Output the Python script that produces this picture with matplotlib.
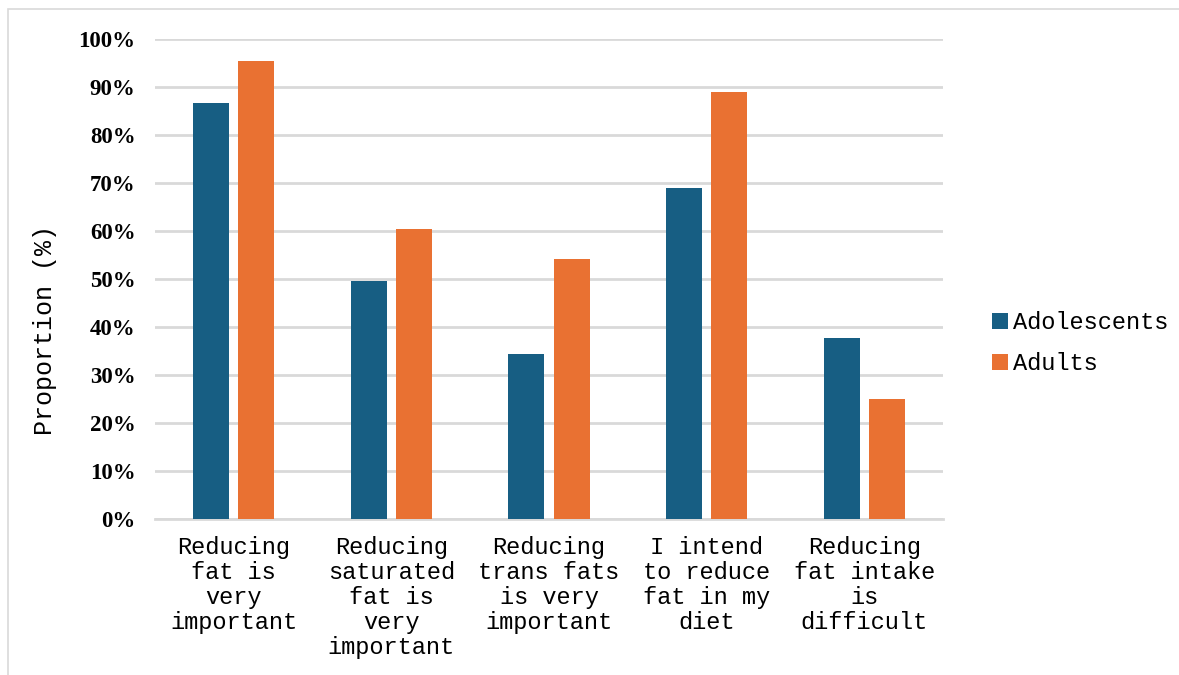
import matplotlib.pyplot as plt
import numpy as np
from matplotlib.patches import Rectangle

categories = [
    "Reducing\nfat is\nvery\nimportant",
    "Reducing\nsaturated\nfat is\nvery\nimportant",
    "Reducing\ntrans fats\nis very\nimportant",
    "I intend\nto reduce\nfat in my\ndiet",
    "Reducing\nfat intake\nis\ndifficult",
]
adolescents = [86.7, 49.6, 34.4, 69.0, 37.7]
adults = [95.4, 60.4, 54.2, 89.0, 25.0]
yticks = np.arange(0, 101, 10)

mono = "Liberation Mono"
fs = 17
W, H = 1179, 675

fig = plt.figure(figsize=(W / 100, H / 100), dpi=100)
ax = fig.add_axes([155 / W, 1 - 519 / H, 788 / W, 480 / H])

x = np.arange(len(categories))
w = 0.228
off = 0.143
ax.bar(x - off, adolescents, w, color="#175e83", label="Adolescents", zorder=3)
ax.bar(x + off, adults, w, color="#e97132", label="Adults", zorder=3)

ax.set_xlim(-0.5, len(categories) - 0.5)
ax.set_ylim(0, 100)
ax.set_yticks(yticks)
ax.set_yticklabels([f"{v}%" for v in yticks], fontfamily="Liberation Serif",
                   fontweight="bold", fontsize=16.5)
ax.set_xticks(x)
ax.set_xticklabels(categories, fontfamily=mono, fontsize=fs, linespacing=1.12,
                   va="top")
ax.tick_params(axis="both", length=0)
ax.tick_params(axis="y", pad=14)
ax.tick_params(axis="x", pad=12)
ax.grid(axis="y", color="#d9d9d9", lw=2, zorder=0)
for s in ["top", "right", "left"]:
    ax.spines[s].set_visible(False)
ax.spines["bottom"].set_color("#d9d9d9")
ax.spines["bottom"].set_linewidth(2)

fig.text(45 / W, 1 - 330 / H, "Proportion (%)", rotation=90, ha="center",
         va="center", fontfamily=mono, fontsize=18)

ax.legend(loc="center left", bbox_to_anchor=(1.035, 0.366), frameon=False,
          prop={"family": mono, "size": fs}, handlelength=0.7,
          handleheight=0.7, handletextpad=0.2, labelspacing=0.75)

# thin frame around the chart area
fig.patches.append(Rectangle((8 / W, -0.05), 1.2, 1 - 9 / H + 0.05,
                             transform=fig.transFigure, fill=False,
                             edgecolor="#d9d9d9", lw=1.2))

fig.savefig("out.png", dpi=100)
